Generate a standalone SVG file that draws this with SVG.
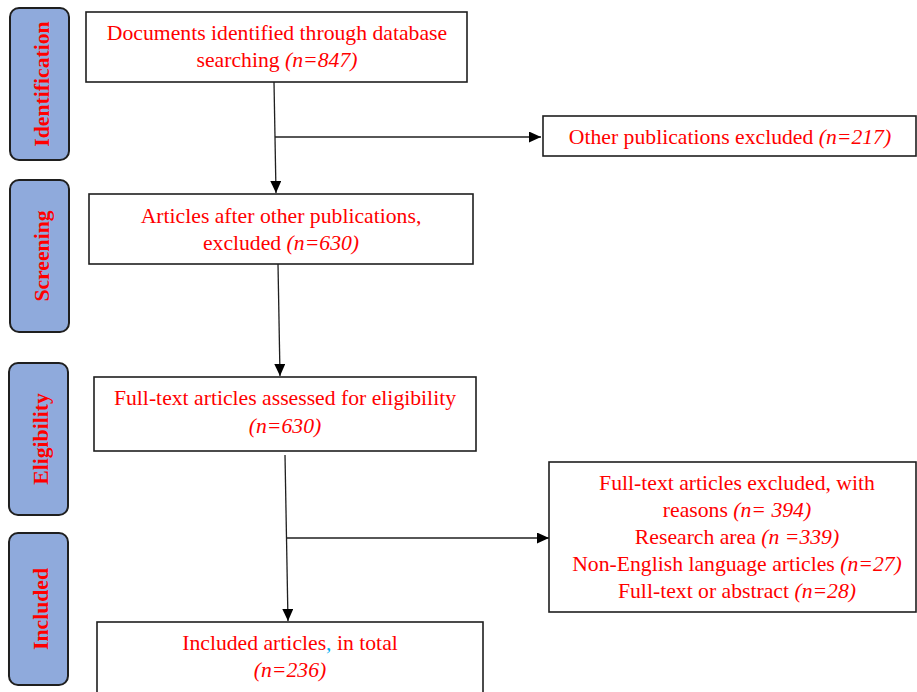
<svg xmlns="http://www.w3.org/2000/svg" width="917" height="692" viewBox="0 0 917 692">
<style>
.bar{fill:#8faadc;stroke:#1f1f1f;stroke-width:2}
.box{fill:#fff;stroke:#1f1f1f;stroke-width:1.6}
.t{font-family:"Liberation Serif","Times New Roman",serif;font-size:21.7px;fill:#ff0000;text-anchor:middle}
.s{font-family:"Liberation Serif","Times New Roman",serif;font-size:21.7px;font-weight:bold;fill:#ff0000;text-anchor:middle}
.i{font-style:italic}
.c{stroke:#1f1f1f;stroke-width:1.3;fill:none}
</style>
<defs>
<marker id="ah" markerWidth="12" markerHeight="11" refX="12" refY="5.5" orient="auto" markerUnits="userSpaceOnUse">
<path d="M0,0 L12,5.5 L0,11 Z" fill="#000"/>
</marker>
</defs>
<rect width="917" height="692" fill="#fff"/>
<g id="stage-identification"><rect class="bar" x="10" y="8" width="59" height="152" rx="9"/><text class="s" transform="translate(49,84) rotate(-90)">Identification</text></g>
<g id="stage-screening"><rect class="bar" x="10" y="180" width="59" height="152" rx="9"/><text class="s" transform="translate(49,256) rotate(-90)">Screening</text></g>
<g id="stage-eligibility"><rect class="bar" x="9" y="363" width="59" height="152" rx="9"/><text class="s" transform="translate(48,439) rotate(-90)">Eligibility</text></g>
<g id="stage-included"><rect class="bar" x="9" y="533" width="59" height="152" rx="9"/><text class="s" transform="translate(48,609) rotate(-90)">Included</text></g>
<g id="connectors">
<line class="c" x1="274" y1="82" x2="276" y2="193" marker-end="url(#ah)"/>
<line class="c" x1="275" y1="137" x2="541" y2="137" marker-end="url(#ah)"/>
<line class="c" x1="278" y1="264" x2="280" y2="376" marker-end="url(#ah)"/>
<line class="c" x1="285" y1="455" x2="288" y2="621" marker-end="url(#ah)"/>
<line class="c" x1="287" y1="538" x2="549" y2="538" marker-end="url(#ah)"/>
</g>
<g id="node-documents"><rect class="box" x="86" y="12" width="381" height="70"/>
<text class="t" x="277" y="40">Documents identified through database</text>
<text class="t" x="277" y="67">searching <tspan class="i">(n=847)</tspan></text></g>
<g id="node-other-excluded"><rect class="box" x="543" y="116" width="373" height="40"/>
<text class="t" x="730" y="144">Other publications excluded <tspan class="i">(n=217)</tspan></text></g>
<g id="node-articles"><rect class="box" x="89" y="194" width="384" height="70"/>
<text class="t" x="281" y="223">Articles after other publications,</text>
<text class="t" x="281" y="250">excluded <tspan class="i">(n=630)</tspan></text></g>
<g id="node-fulltext"><rect class="box" x="94" y="377" width="382" height="74"/>
<text class="t" x="285" y="405">Full-text articles assessed for eligibility</text>
<text class="t i" x="285" y="433">(n=630)</text></g>
<g id="node-fulltext-excluded"><rect class="box" x="549" y="462" width="367" height="150"/>
<text class="t" x="737" y="490">Full-text articles excluded, with</text>
<text class="t" x="737" y="517">reasons <tspan class="i">(n= 394)</tspan></text>
<text class="t" x="737" y="544">Research area <tspan class="i">(n =339)</tspan></text>
<text class="t" x="737" y="571">Non-English language articles <tspan class="i">(n=27)</tspan></text>
<text class="t" x="737" y="598">Full-text or abstract <tspan class="i">(n=28)</tspan></text></g>
<g id="node-included"><rect class="box" x="97" y="622" width="386" height="80"/>
<text class="t" x="290" y="650">Included articles<tspan fill="#00b0f0">,</tspan> in total</text>
<text class="t i" x="290" y="677">(n=236)</text></g>
</svg>
